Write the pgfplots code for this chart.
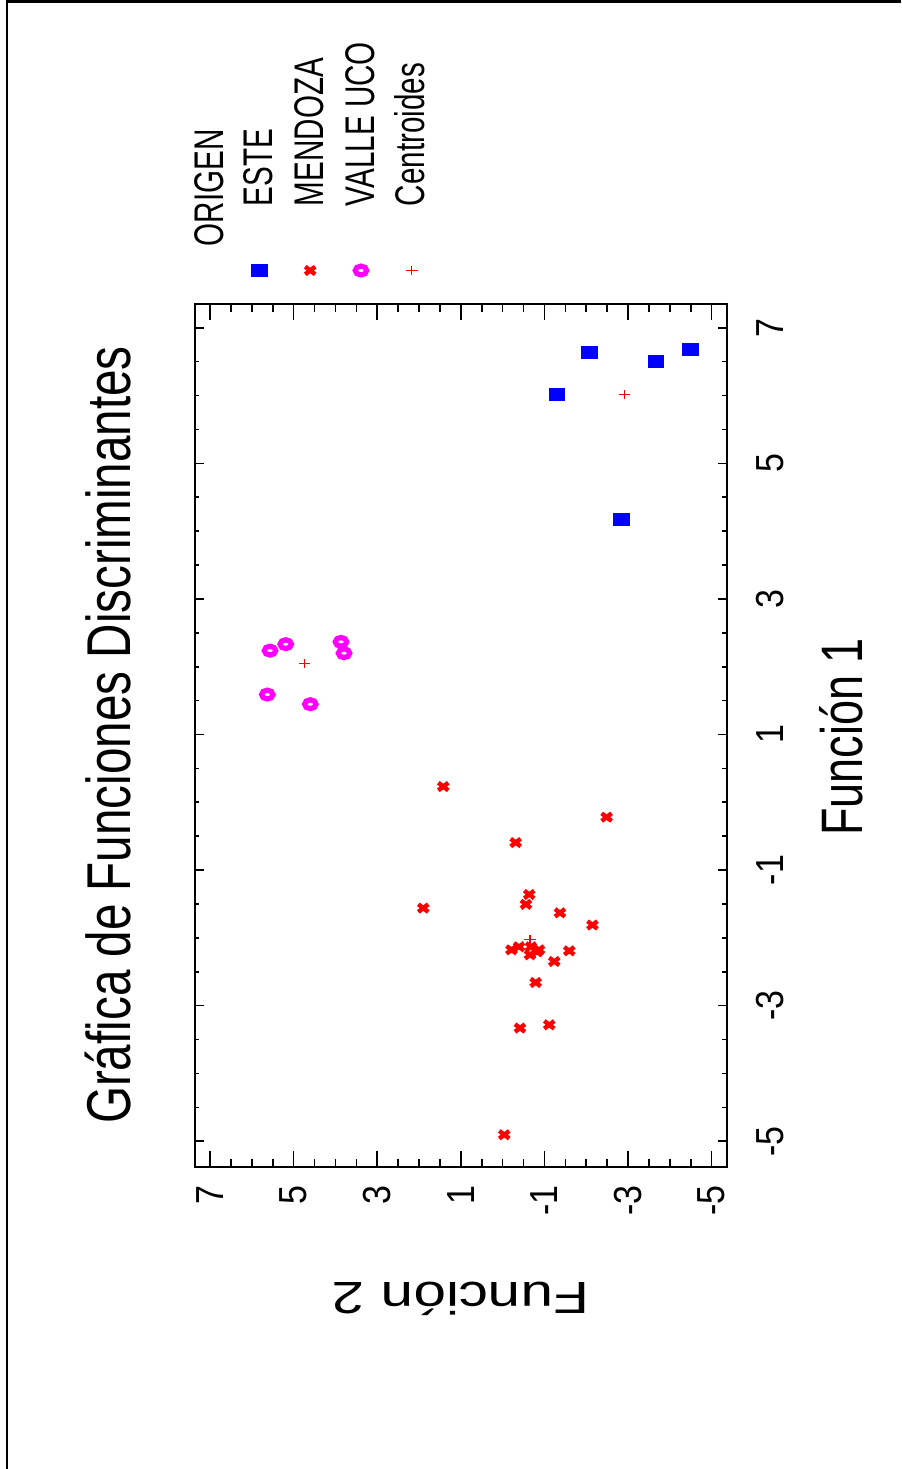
\documentclass[border=0pt]{standalone}
\usepackage{pgfplots}
\pgfplotsset{compat=1.18}
\usepackage{fontspec}
\setmainfont{Liberation Sans}

\definecolor{este}{RGB}{0,0,255}
\definecolor{mendoza}{RGB}{255,0,0}
\definecolor{valle}{RGB}{255,0,255}

% discriminant scores: (Funcion 2, Funcion 1)
\pgfplotstableread{
f2 f1
-2.072 6.631
-3.667 6.505
-4.497 6.686
-1.299 6.018
-2.847 4.169
}\este

\pgfplotstableread{
f2 f1
1.420 0.232
-2.488 -0.219
-0.312 -0.594
-0.637 -1.360
-0.558 -1.505
1.898 -1.561
-1.371 -1.630
-2.149 -1.810
-0.211 -2.176
-0.391 -2.131
-0.678 -2.131
-0.821 -2.205
-0.654 -2.249
-0.869 -2.176
-1.594 -2.191
-1.235 -2.348
-0.790 -2.658
-1.115 -3.282
-0.414 -3.330
-0.039 -4.904
}\mendoza

\pgfplotstableread{
f2 f1
5.565 2.237
5.189 2.332
3.867 2.366
3.795 2.199
5.630 1.589
4.601 1.447
}\valle

\pgfplotstableread{
f2 f1
-2.909 6.012
-0.654 -2.018
4.735 2.052
}\centroides

% legend key: the mark sits below its (rotated) entry text
\pgfplotsset{
  keybelow/.style={legend image code/.code={%
    \path (0pt,0pt);
    \draw[##1, overlay] plot coordinates {(13.65pt,-71.5pt)};}},
}
% rotated entry text in a fixed 80pt tall box, text starting at its foot
\newcommand\entry[1]{\raisebox{0pt}[80pt][0pt]{%
  \rotatebox{90}{\raisebox{0pt}[15pt][0pt]{\scalebox{1}[1.4]{#1}}}}}

\begin{document}
\begin{tikzpicture}
\path[use as bounding box] (0,0) rectangle (450.5pt,734.5pt);
% page frame
\draw[line width=1.2pt] (3.45pt,0pt) -- (3.45pt,733.7pt);
\draw[line width=1.65pt] (2.85pt,733.67pt) -- (450.5pt,733.67pt);

\pgfplotsset{
  frame/.style={
    at={(97.5pt,151.15pt)}, anchor=south west,
    scale only axis, width=265.85pt, height=431.35pt,
    x dir=reverse,
    xmin=-5.36, xmax=7.36, ymin=-5.375, ymax=7.35,
    axis line style={line width=1pt},
    tick align=inside,
    every tick/.style={black, line width=0.8pt},
  }
}

% horizontal ticks (long) and the data
\begin{axis}[frame,
  xtick={-5,-3,-1,1,3,5,7}, xticklabels={-5,-3,-1,1,3,5,7},
  minor x tick num=3,
  xtick pos=both, xticklabel pos=lower,
  ytick=\empty,
  major tick length=7.75pt, minor tick length=3.75pt,
  xticklabel style={rotate=90, yscale=1.15, anchor=east, inner sep=0pt,
    font=\fontsize{17}{17}\selectfont},
  xticklabel shift=9pt,
  legend columns=-1,
  legend style={at={(0.069,1.1101)}, anchor=south west,
    draw=none, fill=none, inner sep=0pt, outer sep=0pt,
    column sep=5pt,
    nodes={inner sep=0pt, outer sep=0pt},
    font=\fontsize{14.8}{15}\selectfont},
  legend cell align=left,
]
\addplot[only marks, mark=square*, color=este,
  mark options={xscale=1.3, rounded corners=1pt}, mark size=3pt, keybelow]
  table[x=f2, y=f1] {\este};
\addlegendentry{\entry{ESTE}}
\addplot[only marks, mark=x, color=mendoza,
  mark options={xscale=1.3, line width=2.2pt}, mark size=2.7pt, keybelow]
  table[x=f2, y=f1] {\mendoza};
\addlegendentry{\entry{MENDOZA}}
\addplot[only marks, mark=o, color=valle,
  mark options={xscale=1.3, line width=2.6pt}, mark size=2.2pt, keybelow]
  table[x=f2, y=f1] {\valle};
\addlegendentry{\entry{VALLE UCO}}
\addplot[only marks, mark=+, color=mendoza,
  mark options={xscale=1.3, line width=0.6pt}, mark size=2.2pt, keybelow]
  table[x=f2, y=f1] {\centroides};
\addlegendentry{\entry{Centroides}}
\end{axis}

% vertical ticks (short) with labels on the right
\begin{axis}[frame,
  xtick=\empty,
  ytick={-5,-3,-1,1,3,5,7}, yticklabels={-5,-3,-1,1,3,5,7},
  minor y tick num=3,
  ytick pos=both, yticklabel pos=right,
  major tick length=4.5pt, minor tick length=2.25pt,
  yticklabel style={rotate=90, yscale=1.15, anchor=north, inner sep=0pt,
    font=\fontsize{17}{17}\selectfont},
  yticklabel shift=14.5pt,
]
\end{axis}

% titles
\node[rotate=90, yscale=1.3, anchor=base, inner sep=0pt,
  font=\fontsize{23.8}{28}\selectfont] at (65pt,367pt)
  {Gráfica de Funciones Discriminantes};
\node[rotate=90, yscale=1.3, anchor=base, inner sep=0pt,
  font=\fontsize{22.5}{26}\selectfont] at (431pt,366pt) {Función 1};
\node[rotate=180, xscale=1.3, anchor=base, inner sep=0pt,
  font=\fontsize{22.5}{26}\selectfont] at (230.4pt,93pt) {Función 2};
\node[rotate=90, yscale=1.4, anchor=base west, inner sep=0pt,
  font=\fontsize{14.8}{15}\selectfont] at (111.65pt,611.15pt) {ORIGEN};
\end{tikzpicture}
\end{document}
